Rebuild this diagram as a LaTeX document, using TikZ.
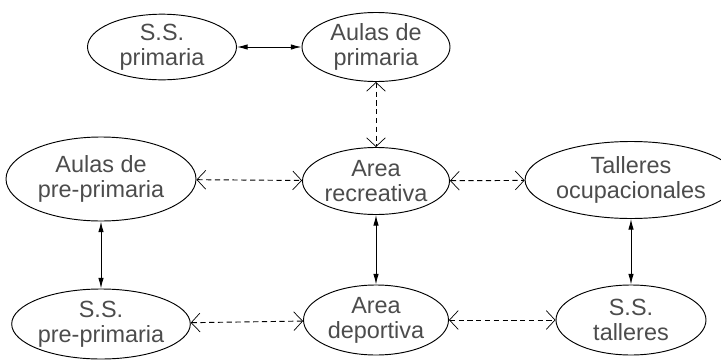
\documentclass[tikz,border=0pt]{standalone}
\usepackage{fontspec}
\setmainfont{Liberation Sans}
\usetikzlibrary{arrows.meta,shapes.geometric}
\tikzset{
  zona/.style={ellipse,draw,line width=0.8pt,inner sep=0pt,align=center,text=black!70,
    font=\fontsize{20}{21.5}\selectfont},
  enlace/.style={{Latex[length=9pt,width=4.6pt]}-{Latex[length=9pt,width=4.6pt]},line width=0.8pt},
  flujo/.style={{Straight Barb[length=7.5pt,width=16pt,line width=0.6pt]}-{Straight Barb[length=7.5pt,width=16pt,line width=0.6pt]},
    line width=0.8pt,dash pattern=on 4.5pt off 3pt},
}
\begin{document}
\begin{tikzpicture}[x=0.03cm,y=-0.03cm]
  \useasboundingbox (0,0) rectangle (721,360);
  \node[zona,minimum width=4.47cm,minimum height=1.95cm] (ssprim)    at (162,47)  {S.S.\\primaria};
  \node[zona,minimum width=4.44cm,minimum height=2.07cm] (aulasprim) at (376,47)  {Aulas de\\primaria};
  \node[zona,minimum width=5.7cm,minimum height=2.52cm]  (aulaspre)  at (101,179) {Aulas de\\pre-primaria};
  \node[zona,minimum width=4.41cm,minimum height=2.01cm] (recre)     at (376,181) {Area\\recreativa};
  \node[zona,minimum width=5.52cm,minimum height=2.31cm] (talleres)  at (631,180) {Talleres\\ocupacionales};
  \node[zona,minimum width=5.22cm,minimum height=2.1cm]  (sspre)     at (101,324) {S.S.\\pre-primaria};
  \node[zona,minimum width=4.35cm,minimum height=2.1cm]  (deport)    at (376,320) {Area\\deportiva};
  \node[zona,minimum width=4.5cm,minimum height=2.1cm]   (sstall)    at (631,320) {S.S.\\talleres};

  \draw[enlace] (ssprim) -- (aulasprim);
  \draw[flujo] (aulasprim) -- (recre);
  \draw[flujo] (aulaspre) -- (recre);
  \draw[flujo] (recre) -- (talleres);
  \draw[flujo] (sspre) -- (deport);
  \draw[flujo] (deport) -- (sstall);
  \draw[enlace] (aulaspre) -- (sspre);
  \draw[enlace] (recre) -- (deport);
  \draw[enlace] (talleres) -- (sstall);
\end{tikzpicture}
\end{document}
